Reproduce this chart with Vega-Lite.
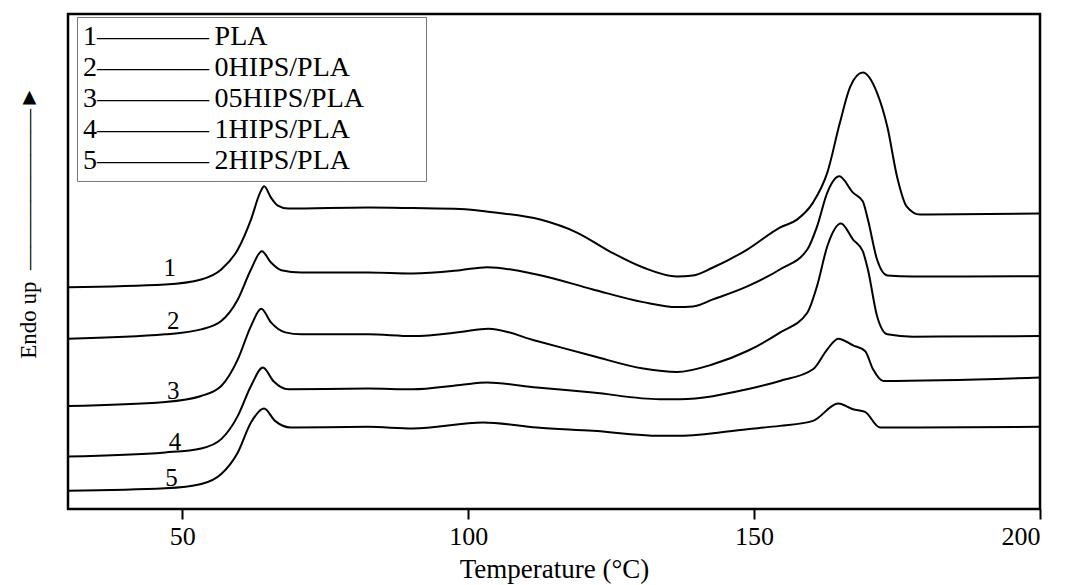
{
  "$schema": "https://vega.github.io/schema/vega-lite/v6.json",
  "width": 972,
  "height": 495,
  "autosize": {"type": "none"},
  "padding": {"left": 68, "top": 14, "right": 27, "bottom": 76},
  "background": "white",
  "config": {
    "view": {"stroke": "black", "strokeWidth": 2.5},
    "font": "Liberation Serif"
  },
  "datasets": {
    "curves": [
      {"s":"1","t":30,"v":222.3},{"s":"1","t":47,"v":225},{"s":"1","t":53.3,"v":230},{"s":"1","t":56.8,"v":240},{"s":"1","t":59.7,"v":260},{"s":"1","t":62,"v":290},{"s":"1","t":63.6,"v":317},{"s":"1","t":64.3,"v":323.3},{"s":"1","t":65.5,"v":312},{"s":"1","t":66.7,"v":304},{"s":"1","t":68.5,"v":301},{"s":"1","t":82.5,"v":302},{"s":"1","t":90.3,"v":301.5},{"s":"1","t":98.6,"v":300.7},{"s":"1","t":104.3,"v":297.3},{"s":"1","t":112.6,"v":290},{"s":"1","t":119,"v":277},{"s":"1","t":124.8,"v":258},{"s":"1","t":130.6,"v":242},{"s":"1","t":136.5,"v":233},{"s":"1","t":139.3,"v":234},{"s":"1","t":142.8,"v":242},{"s":"1","t":148.8,"v":260},{"s":"1","t":154.5,"v":282},{"s":"1","t":157.5,"v":290},{"s":"1","t":160.3,"v":307},{"s":"1","t":162.8,"v":337},{"s":"1","t":165,"v":387},{"s":"1","t":166.8,"v":423},{"s":"1","t":169,"v":437.3},{"s":"1","t":171.5,"v":417},{"s":"1","t":173.3,"v":383},{"s":"1","t":175,"v":333},{"s":"1","t":176.7,"v":303},{"s":"1","t":179,"v":295},{"s":"1","t":200,"v":296},
      {"s":"2","t":30,"v":170.7},{"s":"2","t":47,"v":175},{"s":"2","t":53.3,"v":180},{"s":"2","t":56.8,"v":188.3},{"s":"2","t":59.7,"v":210},{"s":"2","t":62,"v":240},{"s":"2","t":63.9,"v":258.3},{"s":"2","t":65.5,"v":247},{"s":"2","t":67.3,"v":239.3},{"s":"2","t":70.8,"v":237},{"s":"2","t":82.5,"v":237},{"s":"2","t":90.3,"v":236},{"s":"2","t":98.6,"v":239.3},{"s":"2","t":103.3,"v":242.3},{"s":"2","t":112,"v":235},{"s":"2","t":121.8,"v":220},{"s":"2","t":130.6,"v":207.3},{"s":"2","t":136.5,"v":202.3},{"s":"2","t":139.3,"v":203},{"s":"2","t":142.8,"v":210},{"s":"2","t":148.8,"v":223},{"s":"2","t":154.5,"v":240},{"s":"2","t":159.3,"v":260},{"s":"2","t":161,"v":283},{"s":"2","t":162.8,"v":317},{"s":"2","t":164.9,"v":333.3},{"s":"2","t":167.3,"v":317},{"s":"2","t":169,"v":308.3},{"s":"2","t":169.9,"v":290},{"s":"2","t":171.5,"v":250},{"s":"2","t":173.3,"v":234},{"s":"2","t":177.8,"v":233},{"s":"2","t":200,"v":233.3},
      {"s":"3","t":30,"v":103.3},{"s":"3","t":47,"v":107.3},{"s":"3","t":53.3,"v":113.3},{"s":"3","t":56.8,"v":123.3},{"s":"3","t":59.7,"v":150},{"s":"3","t":62,"v":183.3},{"s":"3","t":63.8,"v":200.7},{"s":"3","t":65.5,"v":187},{"s":"3","t":68,"v":177},{"s":"3","t":70.8,"v":175},{"s":"3","t":82.5,"v":175},{"s":"3","t":90.3,"v":173.3},{"s":"3","t":98.6,"v":177.3},{"s":"3","t":103.5,"v":180.7},{"s":"3","t":112,"v":168.3},{"s":"3","t":121.8,"v":153.3},{"s":"3","t":130.6,"v":140.7},{"s":"3","t":136.5,"v":137.3},{"s":"3","t":142.8,"v":145},{"s":"3","t":148.8,"v":158.3},{"s":"3","t":154.5,"v":176.7},{"s":"3","t":159.3,"v":196.7},{"s":"3","t":161,"v":223.3},{"s":"3","t":162.8,"v":263.3},{"s":"3","t":165.2,"v":286},{"s":"3","t":167.3,"v":270},{"s":"3","t":169,"v":258.3},{"s":"3","t":169.9,"v":240},{"s":"3","t":171.5,"v":193.3},{"s":"3","t":173.3,"v":175},{"s":"3","t":177.8,"v":172.7},{"s":"3","t":200,"v":173.3},
      {"s":"4","t":30,"v":52.7},{"s":"4","t":47,"v":56.7},{"s":"4","t":53.3,"v":60.7},{"s":"4","t":56.8,"v":70},{"s":"4","t":59.7,"v":93.3},{"s":"4","t":62,"v":123.3},{"s":"4","t":64.1,"v":141.7},{"s":"4","t":65.9,"v":128.3},{"s":"4","t":68.5,"v":120},{"s":"4","t":82.5,"v":120.7},{"s":"4","t":90.3,"v":120},{"s":"4","t":98.6,"v":124.3},{"s":"4","t":103.3,"v":126.7},{"s":"4","t":112,"v":121.7},{"s":"4","t":121.8,"v":116.7},{"s":"4","t":133.5,"v":110},{"s":"4","t":137,"v":110},{"s":"4","t":148.8,"v":120},{"s":"4","t":154.5,"v":128.3},{"s":"4","t":160.3,"v":140},{"s":"4","t":162.8,"v":160},{"s":"4","t":164.7,"v":170.7},{"s":"4","t":167.3,"v":164},{"s":"4","t":169.4,"v":158.3},{"s":"4","t":170.8,"v":140},{"s":"4","t":172.6,"v":128.3},{"s":"4","t":200,"v":131.7},
      {"s":"5","t":30,"v":18.3},{"s":"5","t":47,"v":20.7},{"s":"5","t":53.3,"v":25},{"s":"5","t":56.8,"v":35},{"s":"5","t":59.7,"v":56.7},{"s":"5","t":62,"v":86.7},{"s":"5","t":64.3,"v":100.7},{"s":"5","t":66.2,"v":88.3},{"s":"5","t":69,"v":81.7},{"s":"5","t":82.5,"v":82.3},{"s":"5","t":90.3,"v":80.7},{"s":"5","t":102.6,"v":86.7},{"s":"5","t":112,"v":81.7},{"s":"5","t":121.8,"v":78.3},{"s":"5","t":133.5,"v":73.3},{"s":"5","t":137,"v":73.3},{"s":"5","t":148.8,"v":80},{"s":"5","t":154.5,"v":83.3},{"s":"5","t":160.3,"v":88.3},{"s":"5","t":164.7,"v":105.7},{"s":"5","t":167.3,"v":100},{"s":"5","t":169.4,"v":97.3},{"s":"5","t":172,"v":81.7},{"s":"5","t":200,"v":82.3}
    ],
    "labels": [
      {"label":"1","t":47.8,"v":241.7},
      {"label":"2","t":48.4,"v":188.3},
      {"label":"3","t":48.4,"v":118.3},
      {"label":"4","t":48.7,"v":66.7},
      {"label":"5","t":48.1,"v":30.7}
    ]
  },
  "layer": [
    {
      "data": {"name": "curves"},
      "mark": {"type": "line", "interpolate": "monotone", "strokeWidth": 2, "clip": true},
      "encoding": {
        "x": {
          "field": "t", "type": "quantitative",
          "scale": {"domain": [30, 200], "nice": false, "zero": false},
          "axis": {
            "values": [50, 100, 150, 200],
            "title": "Temperature (°C)",
            "grid": false,
            "domain": false,
            "tickColor": "black", "tickWidth": 2, "tickSize": 10,
            "labelFont": "Liberation Serif", "labelFontSize": 26, "labelColor": "black", "labelPadding": 4,
            "titleFont": "Liberation Serif", "titleFontSize": 27, "titleFontWeight": "normal", "titleColor": "black", "titlePadding": 7
          }
        },
        "y": {
          "field": "v", "type": "quantitative",
          "scale": {"domain": [0, 496], "nice": false, "zero": false},
          "axis": {
            "title": "Endo up\u2002———————►",
            "grid": false, "ticks": false, "labels": false, "domain": false,
            "titleFont": "Liberation Serif", "titleFontSize": 23, "titleFontWeight": "normal", "titleColor": "black",
            "titleAngle": 270, "titleAlign": "center", "titleBaseline": "middle",
            "titleX": -40, "titleY": 208
          }
        },
        "color": {
          "field": "s", "type": "nominal",
          "scale": {"range": ["black", "black", "black", "black", "black"]},
          "legend": {
            "title": null,
            "orient": "none", "legendX": 9, "legendY": 3,
            "labelExpr": "datum.label + '————\u2009' + ['PLA','0HIPS/PLA','05HIPS/PLA','1HIPS/PLA','2HIPS/PLA'][toNumber(datum.label) - 1] + '\u00a0\u00a0\u00a0\u00a0\u00a0\u00a0\u00a0\u00a0\u200b'",
            "labelFont": "Liberation Serif", "labelFontSize": 28, "labelColor": "black", "labelLimit": 0,
            "labelOffset": -28, "symbolSize": 0, "symbolOpacity": 0, "symbolStrokeWidth": 0,
            "rowPadding": 3, "padding": 6,
            "strokeColor": "#777", "fillColor": "white"
          }
        }
      }
    },
    {
      "data": {"name": "labels"},
      "mark": {"type": "text", "font": "Liberation Serif", "fontSize": 25, "color": "black", "align": "center", "baseline": "middle"},
      "encoding": {
        "x": {"field": "t", "type": "quantitative"},
        "y": {"field": "v", "type": "quantitative"},
        "text": {"field": "label"}
      }
    }
  ]
}
